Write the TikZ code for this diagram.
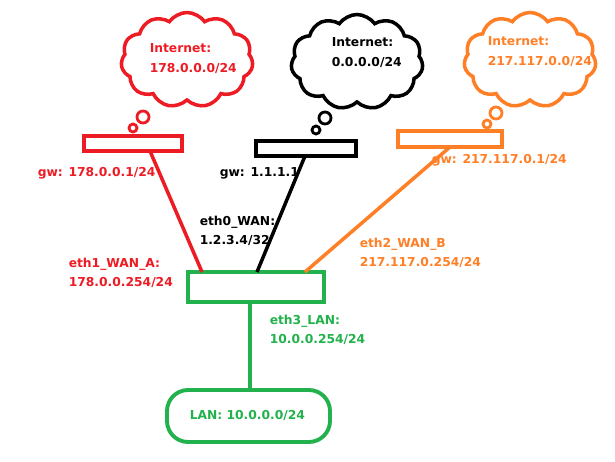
\documentclass[tikz,border=0pt]{standalone}
\usepackage{fontspec}
\setmainfont{DejaVu Sans}
\usetikzlibrary{shapes.symbols}
\definecolor{wanred}{RGB}{237,28,36}
\definecolor{wanorange}{RGB}{255,127,39}
\definecolor{langreen}{RGB}{34,177,76}
\begin{document}
\begin{tikzpicture}[x=0.02cm,y=-0.02cm,line width=2pt,
    lbl/.style={font=\fontsize{7}{9}\selectfont\bfseries,align=left,anchor=north west,inner sep=0pt},
    net/.style={cloud,draw=#1,cloud puffs=11,cloud puff arc=110,aspect=1.5,minimum width=132*0.02cm,minimum height=95*0.02cm,fill=white},
    bub/.style={circle,draw=#1,line width=1.6pt,inner sep=0pt}]
  \useasboundingbox (0,0) rectangle (615,462);
  % clouds
  \node[net=wanred] (c1) at (187,60) {};
  \node[net=black] (c2) at (357,62) {};
  \node[net=wanorange] (c3) at (530,60) {};
  \node[lbl,wanred] at (148,42) {Internet:\\[2pt]178.0.0.0/24};
  \node[lbl] at (330,36) {Internet:\\[2pt]0.0.0.0/24};
  \node[lbl,wanorange] at (486,35) {Internet:\\[2pt]217.117.0.0/24};
  % bubbles
  \node[bub=wanred,minimum size=12*0.02cm] at (143,117) {};
  \node[bub=wanred,minimum size=8*0.02cm] at (133,128) {};
  \node[bub=black,minimum size=12*0.02cm] at (325,118) {};
  \node[bub=black,minimum size=8*0.02cm] at (316,130) {};
  \node[bub=wanorange,minimum size=12*0.02cm] at (496,113) {};
  \node[bub=wanorange,minimum size=8*0.02cm] at (487,124) {};
  % routers
  \draw[wanred] (84,136) rectangle (182,151);
  \draw (256,141) rectangle (356,156);
  \draw[wanorange] (398,131) rectangle (502,147);
  \coordinate (gwA) at (150,151);
  \coordinate (gw0) at (305,156);
  \coordinate (gwB) at (450,147);
  \draw[langreen,line width=2.2pt] (188,272) rectangle (324,302);
  \draw[langreen,line width=2.2pt,rounded corners=12pt] (167,390) rectangle (330,442);
  \coordinate (ethA) at (202,272);
  \coordinate (eth0) at (257,272);
  \coordinate (ethB) at (305,272);
  \coordinate (eth3) at (250,302);
  \coordinate (lan) at (250,390);
  % links
  \draw[wanred] (gwA) -- (ethA);
  \draw (gw0) -- (eth0);
  \draw[wanorange] (gwB) -- (ethB);
  \draw[langreen,line width=2.2pt] (eth3) -- (lan);
  % labels
  \node[lbl,wanred] at (36,166) {gw: 178.0.0.1/24};
  \node[lbl] at (218,166) {gw: 1.1.1.1};
  \node[lbl,wanorange] at (430,153) {gw: 217.117.0.1/24};
  \node[lbl] at (198,214) {eth0\_WAN:\\[2pt]1.2.3.4/32};
  \node[lbl,wanred] at (67,256) {eth1\_WAN\_A:\\[2pt]178.0.0.254/24};
  \node[lbl,wanorange] at (358,236) {eth2\_WAN\_B\\[2pt]217.117.0.254/24};
  \node[lbl,langreen] at (268,313) {eth3\_LAN:\\[2pt]10.0.0.254/24};
  \node[lbl,langreen] at (188,409) {LAN: 10.0.0.0/24};
\end{tikzpicture}
\end{document}
